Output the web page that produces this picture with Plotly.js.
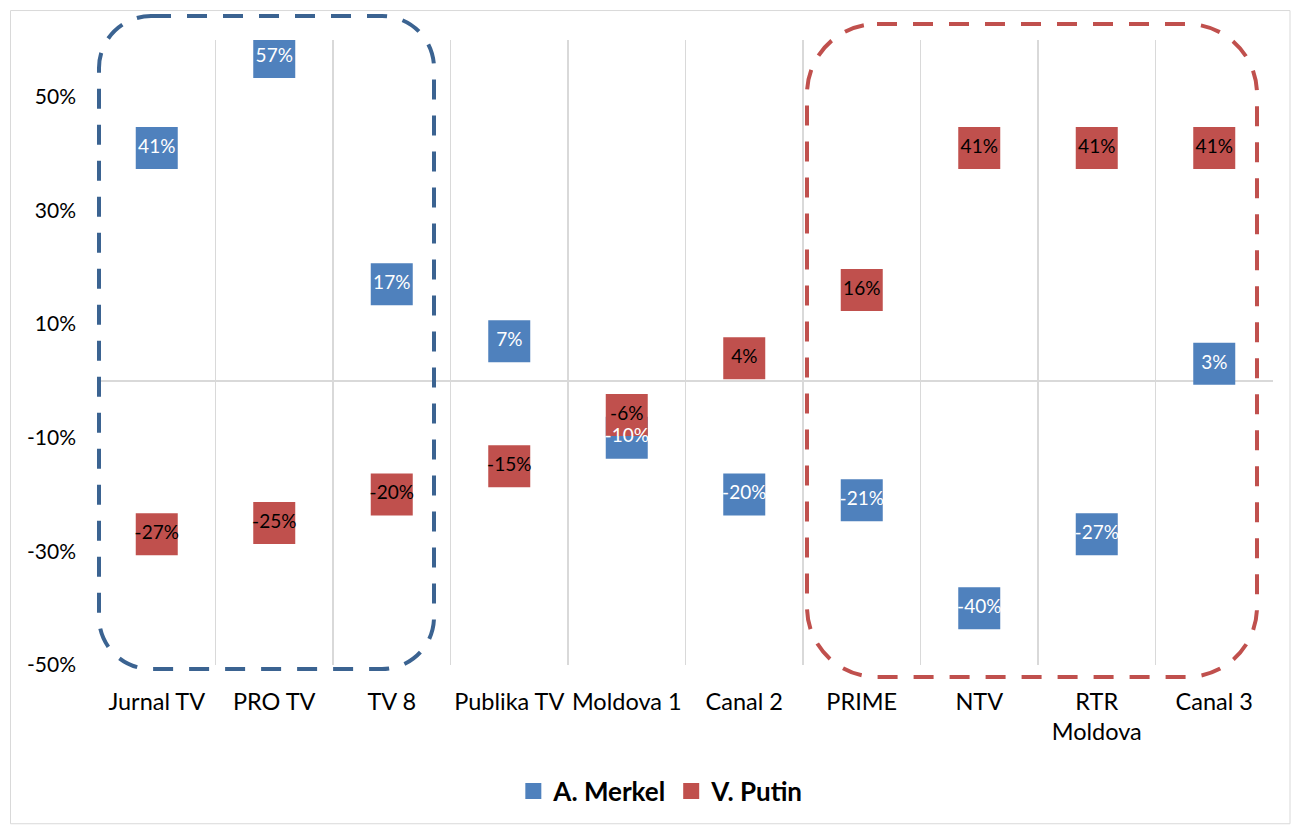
<!DOCTYPE html>
<html>
<head>
<meta charset="utf-8">
<script src="https://cdn.plot.ly/plotly-3.0.1.min.js"></script>
<style>html,body{margin:0;padding:0;background:#fff;}#chart{width:1291px;height:826px;}</style>
</head>
<body>
<div id="chart"></div>
<script>
const categories = ["Jurnal TV", "PRO TV", "TV 8", "Publika TV", "Moldova 1", "Canal 2", "PRIME", "NTV", "RTR<br>Moldova", "Canal 3"];
const merkel = [0.41, 0.57, 0.17, 0.07, -0.10, -0.20, -0.21, -0.40, -0.27, 0.03];
const putin = [-0.27, -0.25, -0.20, -0.15, -0.06, 0.04, 0.16, 0.41, 0.41, 0.41];
const yTickVals = [-0.5, -0.3, -0.1, 0.1, 0.3, 0.5];
const yTickText = ["-50%", "-30%", "-10%", "10%", "30%", "50%"];

const FONT = "Lato, 'Open Sans', sans-serif";
const BLUE = "#4F81BD", RED = "#C0504D";

// plot area in pixels
const W = 1291, H = 826, L = 98, R = 1273, T = 40, B = 666;
const px = X => (X - L) / (R - L);
const py = Y => (B - Y) / (B - T);
function roundRect(x0, y0, x1, y1, r) {
  const k = 0.5523 * r;
  const P = (X, Y) => px(X).toFixed(5) + "," + py(Y).toFixed(5);
  return "M" + P(x0 + r, y0) +
    " L" + P(x1 - r, y0) +
    " C" + P(x1 - r + k, y0) + " " + P(x1, y0 + r - k) + " " + P(x1, y0 + r) +
    " L" + P(x1, y1 - r) +
    " C" + P(x1, y1 - r + k) + " " + P(x1 - r + k, y1) + " " + P(x1 - r, y1) +
    " L" + P(x0 + r, y1) +
    " C" + P(x0 + r - k, y1) + " " + P(x0, y1 - r + k) + " " + P(x0, y1 - r) +
    " L" + P(x0, y0 + r) +
    " C" + P(x0, y0 + r - k) + " " + P(x0 + r - k, y0) + " " + P(x0 + r, y0) + " Z";
}

const pct = v => Math.round(v * 100) + "%";

const traces = [
  {x: categories, y: merkel, name: "A. Merkel", type: "scatter", mode: "markers",
   marker: {symbol: "square", size: 42, color: BLUE}, hoverinfo: "skip"},
  {x: categories, y: putin, name: "V. Putin", type: "scatter", mode: "markers",
   marker: {symbol: "square", size: 42, color: RED}, hoverinfo: "skip"},
  {x: categories, y: putin, type: "scatter", mode: "text", showlegend: false,
   text: putin.map(pct), textposition: "middle center",
   textfont: {family: FONT, size: 19, color: "#000"}, hoverinfo: "skip"},
  {x: categories, y: merkel, type: "scatter", mode: "text", showlegend: false,
   text: merkel.map(pct), textposition: "middle center",
   textfont: {family: FONT, size: 19, color: "#fff"}, hoverinfo: "skip"}
];

const layout = {
  width: W, height: H,
  margin: {l: L, r: W - R, t: T, b: H - B, pad: 0},
  paper_bgcolor: "#fff", plot_bgcolor: "#fff",
  font: {family: FONT, size: 20, color: "#000"},
  showlegend: true,
  legend: {orientation: "h", x: 0.479, xanchor: "center", y: -0.2, yanchor: "middle",
           font: {family: FONT, size: 26, color: "#000", weight: "bold"}, itemwidth: 30},
  xaxis: {type: "category", tickson: "boundaries", showgrid: true, gridcolor: "#D9D9D9", gridwidth: 1.5,
          ticks: "", showline: false, zeroline: false, range: [-0.5, 9.5], tickangle: 0,
          tickfont: {family: FONT, size: 23.5}, ticklabelstandoff: 20, fixedrange: true},
  yaxis: {range: [-0.5, 0.6], tickvals: yTickVals, ticktext: yTickText, showgrid: false,
          zeroline: true, zerolinecolor: "#D9D9D9", zerolinewidth: 1.5, showline: false, ticks: "",
          tickfont: {family: FONT, size: 21}, ticklabelstandoff: 21, fixedrange: true},
  shapes: [
    {type: "rect", xref: "paper", yref: "paper", x0: px(10.5), x1: px(1290), y0: py(10.5), y1: py(825),
     line: {color: "#D9D9D9", width: 1}, layer: "below"},
    {type: "path", xref: "paper", yref: "paper", path: roundRect(99, 16, 434, 670, 52),
     line: {color: "#3B6391", width: 4, dash: "20px,16px"}, layer: "above"},
    {type: "path", xref: "paper", yref: "paper", path: roundRect(807, 24, 1257, 678, 70),
     line: {color: RED, width: 4, dash: "20px,16px"}, layer: "above"}
  ]
};

Plotly.newPlot("chart", traces, layout, {displayModeBar: false, staticPlot: true});
</script>
</body>
</html>
